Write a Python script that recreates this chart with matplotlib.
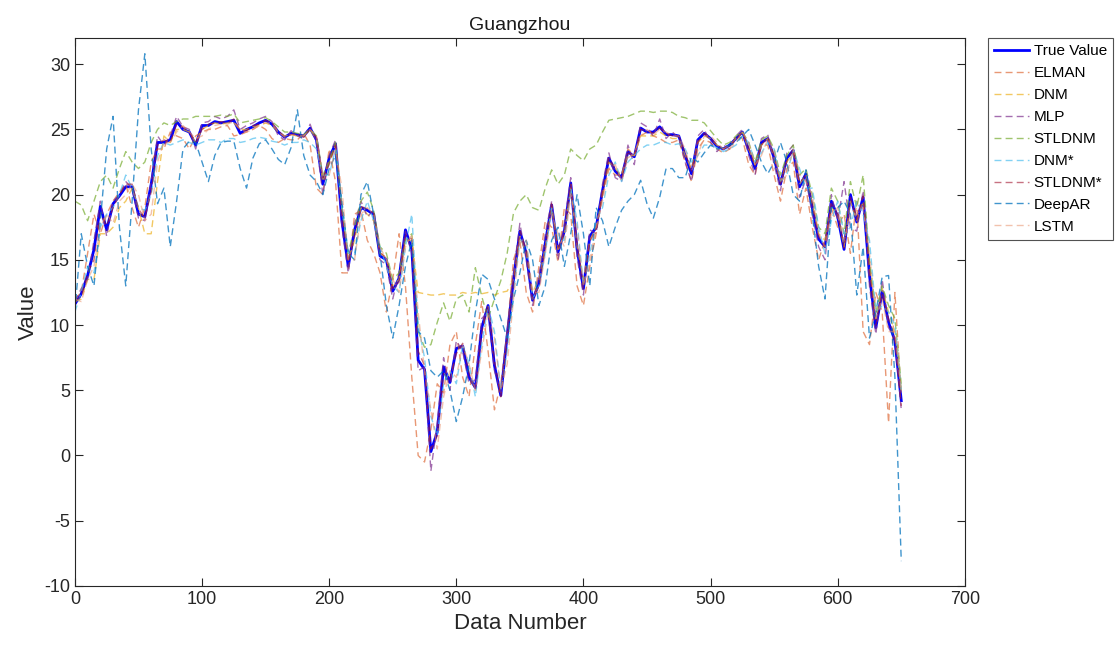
import numpy as np
import matplotlib
matplotlib.use("Agg")
import matplotlib.pyplot as plt

plt.rcParams['font.family'] = ['Liberation Sans', 'DejaVu Sans']
plt.rcParams['axes.unicode_minus'] = False

# data number sampled every 5 points (0 .. 650)
data_number = np.arange(0, 651, 5)

true_value = [
    11.6, 12.4, 13.8, 15.8, 19.1, 17.3, 19.3, 19.9, 20.6, 20.6,
    18.5, 18.3, 20.8, 24.0, 24.0, 24.2, 25.6, 25.0, 24.8, 23.8,
    25.3, 25.3, 25.6, 25.5, 25.6, 25.7, 24.7, 25.0, 25.2, 25.5,
    25.7, 25.4, 24.8, 24.4, 24.7, 24.6, 24.5, 25.1, 24.2, 20.8,
    22.8, 23.9, 18.0, 14.5, 17.3, 19.0, 18.8, 18.5, 15.3, 15.0,
    12.6, 13.6, 17.3, 15.8, 7.3, 6.6, 0.3, 1.8, 6.8, 5.6,
    8.2, 8.4, 6.0, 5.2, 9.8, 11.5, 6.9, 4.6, 9.2, 13.5,
    17.2, 15.5, 11.9, 13.2, 16.3, 19.2, 15.6, 17.2, 20.9, 15.8,
    12.8, 16.8, 17.5, 20.3, 22.8, 21.8, 21.3, 23.3, 22.9, 25.1,
    24.8, 24.8, 25.2, 24.6, 24.6, 24.5, 23.0, 21.6, 24.2, 24.7,
    24.3, 23.7, 23.5, 23.8, 24.3, 24.8, 23.4, 22.0, 24.0, 24.3,
    22.8, 20.8, 22.8, 23.4, 20.6, 21.6, 19.0, 16.6, 16.0, 19.5,
    18.3, 15.8, 20.0, 17.9, 19.8, 13.8, 9.8, 12.6, 10.2, 8.8,
    4.2,
]

elman = [
    12.0, 12.5, 15.5, 18.5, 17.0, 18.5, 19.5, 20.2, 20.8, 19.0,
    17.5, 19.0, 22.5, 23.5, 23.5, 24.8, 24.5, 24.3, 23.5, 24.5,
    24.8, 25.0, 25.0, 25.2, 25.3, 24.5, 24.6, 24.8, 25.0, 25.3,
    25.0, 24.3, 24.0, 24.3, 24.2, 24.2, 24.7, 23.8, 20.5, 20.0,
    23.5, 21.0, 14.0, 14.0, 18.5, 18.8, 16.5, 15.5, 14.0, 11.0,
    13.5, 17.0, 13.0, 6.0, 0.0, -0.5, 2.0, 5.5, 4.8, 8.5,
    9.5, 6.0, 4.5, 8.5, 11.8, 8.0, 3.5, 5.5, 9.5, 15.0,
    16.5, 12.5, 11.0, 14.5, 18.0, 17.5, 14.8, 19.0, 18.5, 13.0,
    11.5, 14.5, 17.0, 20.0, 22.0, 21.5, 21.5, 23.5, 23.0, 24.5,
    24.8, 24.5, 24.3, 24.0, 24.0, 24.2, 22.5, 21.0, 23.5, 24.2,
    24.0, 23.5, 23.2, 23.5, 24.5, 24.3, 22.3, 21.5, 23.8, 23.8,
    21.5, 19.5, 22.0, 22.5, 18.5, 20.5, 17.5, 15.0, 16.5, 19.0,
    17.5, 18.5, 15.5, 19.5, 9.5, 8.5, 12.5, 11.0, 2.5, 12.5,
    4.5,
]

dnm = [
    11.8, 12.0, 13.5, 13.5, 17.0, 17.0, 17.5, 19.0, 19.5, 20.5,
    19.0, 17.0, 17.0, 21.0, 24.5, 24.0, 25.0, 25.0, 24.8, 24.0,
    25.0, 25.3, 25.5, 25.4, 25.5, 25.5, 25.0, 25.0, 25.2, 25.3,
    25.5, 25.3, 24.8, 24.5, 24.6, 24.5, 24.5, 25.0, 24.2, 21.0,
    22.5, 23.8, 19.0, 15.0, 16.5, 19.0, 18.5, 18.0, 15.5, 15.2,
    13.0, 13.5, 16.5, 16.5, 12.5, 12.4, 12.3, 12.3, 12.4, 12.3,
    12.3, 12.5, 12.4, 12.5, 12.4, 12.5, 12.3, 12.5, 12.6, 13.5,
    16.8, 15.5, 12.5, 13.5, 16.0, 19.0, 15.8, 17.0, 20.5, 16.0,
    13.5, 16.5, 17.5, 20.0, 22.5, 22.0, 21.5, 23.0, 23.0, 24.5,
    24.5, 24.5, 24.8, 24.5, 24.3, 24.3, 23.0, 22.0, 24.0, 24.5,
    24.3, 23.8, 23.5, 23.8, 24.3, 24.8, 23.5, 22.3, 23.8, 24.3,
    22.8, 21.0, 22.5, 23.2, 20.8, 21.5, 19.3, 17.0, 16.5, 19.0,
    18.5, 16.0, 19.5, 18.0, 19.5, 14.5, 10.5, 12.8, 11.0, 9.5,
    5.0,
]

mlp = [
    11.8, 12.8, 13.5, 16.5, 19.5, 16.8, 19.5, 20.0, 21.0, 20.5,
    18.2, 18.0, 21.0, 24.5, 23.8, 24.5, 26.0, 25.2, 25.0, 23.5,
    25.5, 25.6, 26.0, 25.8, 26.0, 26.5, 25.0, 25.3, 25.5, 25.8,
    26.0, 25.6, 24.5, 24.2, 24.9, 24.5, 24.3, 25.4, 24.0, 20.0,
    23.0, 24.2, 17.5, 14.0, 17.8, 19.5, 18.3, 18.8, 15.0, 14.6,
    12.0, 14.0, 17.2, 15.5, 6.5, 6.8, -1.2, 2.5, 7.5, 5.0,
    8.8, 8.0, 5.5, 5.8, 10.5, 11.0, 6.5, 4.8, 9.5, 14.0,
    17.8, 15.0, 11.5, 13.8, 17.0, 19.5, 15.0, 17.8, 21.3, 15.2,
    12.3, 17.3, 17.0, 20.8, 23.2, 21.3, 21.0, 23.8, 22.3, 25.5,
    25.2, 24.5, 25.8, 24.3, 24.8, 24.3, 22.5, 21.0, 24.5, 25.0,
    24.0, 23.3, 23.8, 23.5, 24.5, 25.0, 23.0, 21.5, 24.3, 24.6,
    22.3, 20.3, 23.2, 23.8, 19.8, 21.2, 18.5, 16.0, 15.0, 20.0,
    18.0, 21.0, 17.5, 17.2, 20.3, 13.0, 9.3, 13.5, 9.8, 9.0,
    3.5,
]

stldnm = [
    19.5, 19.2, 18.0, 19.5, 21.0, 21.5, 20.5, 22.0, 23.3, 22.5,
    22.0, 22.5, 24.0, 25.0, 25.5, 25.3, 25.6, 25.8, 25.8, 26.0,
    26.0, 26.0, 26.0, 26.1, 26.0, 26.2, 25.5, 25.6, 25.7, 25.8,
    25.9, 25.6, 25.2, 24.8, 24.8, 24.7, 24.6, 25.0, 24.5, 21.5,
    22.5, 24.0, 19.0, 15.5, 17.5, 19.5, 20.2, 18.8, 16.0, 15.5,
    13.5, 14.0, 16.5, 17.0, 9.5, 8.3, 8.5, 10.2, 11.7, 10.3,
    12.0, 12.3, 11.0, 14.4, 12.2, 10.5, 12.0, 13.4, 15.5, 18.6,
    19.5, 20.0, 19.0, 18.8, 20.5, 21.9, 20.8, 21.5, 23.5, 23.0,
    22.6, 23.5, 23.8, 24.8, 25.7, 25.8, 25.9, 26.0, 26.2, 26.4,
    26.4, 26.3, 26.4, 26.4, 26.3, 26.0, 25.9, 25.7, 25.7, 25.5,
    24.9, 24.3, 23.8, 24.0, 24.5, 24.8, 24.0, 22.5, 24.2, 24.5,
    23.5, 21.5, 23.0, 23.8, 21.5, 22.0, 20.0, 17.5, 17.0, 20.5,
    19.5, 17.0, 21.0, 19.0, 21.5, 15.0, 11.0, 13.0, 11.5, 10.5,
    5.5,
]

dnm_star = [
    11.0, 12.5, 14.5, 14.0, 17.5, 18.5, 19.0, 20.0, 21.5, 20.5,
    19.0, 18.8, 20.0, 23.0, 24.0, 23.8, 24.0, 24.2, 24.0, 23.8,
    24.0, 24.2, 24.2, 24.0, 24.3, 24.3, 24.0, 24.1, 24.3, 24.4,
    24.3, 24.1, 24.0, 23.8, 24.0, 24.0, 24.2, 24.0, 23.5, 21.5,
    21.5, 23.5, 19.0, 15.5, 15.5, 18.0, 19.5, 18.0, 16.0, 14.5,
    13.0, 12.5, 16.0, 18.5, 10.0, 7.5, 3.0, 1.5, 5.5, 6.5,
    5.5, 8.5, 7.0, 4.5, 8.5, 11.5, 9.5, 5.0, 8.0, 12.5,
    16.5, 16.5, 12.0, 13.0, 15.5, 19.0, 16.5, 16.5, 20.5, 18.0,
    13.0, 15.5, 18.0, 19.0, 21.5, 22.5, 21.0, 22.5, 23.0, 23.5,
    23.8, 23.8, 24.0, 24.0, 23.8, 23.9, 23.5, 22.5, 23.0, 23.8,
    23.8, 23.6, 23.3, 23.5, 23.8, 24.5, 24.0, 22.5, 23.2, 24.0,
    23.5, 21.0, 21.5, 23.5, 22.0, 20.5, 20.5, 17.5, 15.5, 18.0,
    19.5, 17.0, 17.5, 19.5, 18.5, 16.5, 11.0, 11.5, 11.0, 10.0,
    5.0,
]

stldnm_star = [
    11.8, 12.2, 14.0, 15.0, 18.6, 17.6, 19.0, 20.0, 20.8, 20.8,
    18.9, 18.2, 20.2, 23.8, 24.2, 24.0, 25.4, 25.2, 24.8, 24.0,
    25.0, 25.4, 25.5, 25.6, 25.5, 25.8, 24.9, 24.9, 25.3, 25.4,
    25.7, 25.5, 24.9, 24.4, 24.6, 24.7, 24.4, 25.0, 24.4, 21.3,
    22.3, 23.8, 18.6, 14.8, 16.8, 19.1, 18.9, 18.6, 15.6, 15.1,
    12.8, 13.3, 16.9, 16.6, 8.0, 6.9, 0.5, 1.5, 6.3, 5.8,
    7.8, 8.6, 6.3, 5.0, 9.4, 11.6, 7.3, 4.5, 8.8, 13.2,
    17.2, 15.8, 12.0, 13.0, 16.0, 19.3, 15.9, 17.0, 20.8, 16.3,
    12.8, 16.4, 17.4, 20.1, 22.8, 22.0, 21.2, 23.2, 23.0, 25.0,
    24.9, 24.7, 25.1, 24.7, 24.5, 24.5, 23.2, 21.8, 24.0, 24.7,
    24.3, 23.8, 23.5, 23.7, 24.2, 24.8, 23.6, 22.2, 23.8, 24.4,
    23.0, 20.8, 22.6, 23.5, 20.9, 21.5, 19.3, 16.8, 16.0, 19.3,
    18.5, 15.9, 19.8, 18.1, 19.9, 14.2, 10.0, 12.4, 10.5, 9.0,
    3.8,
]

deepar = [
    11.0, 17.0, 14.5, 13.0, 18.0, 23.5, 26.0, 17.5, 13.0, 19.5,
    26.5, 30.8, 23.5, 19.3, 20.5, 16.0, 19.5, 23.5, 24.1, 24.0,
    22.5, 21.0, 23.0, 24.0, 24.1, 24.1, 22.0, 20.5, 22.8, 23.9,
    24.2, 23.5, 22.7, 22.3, 23.6, 26.5, 23.0, 21.5, 21.0, 20.0,
    22.0, 23.0, 19.5, 15.5, 15.0, 20.0, 21.0, 18.5, 15.5, 11.5,
    9.0, 11.5, 14.5, 16.5, 9.5, 9.0, 6.5, 6.0, 6.5, 5.0,
    2.6, 4.5, 7.0, 11.0, 13.9, 13.5, 12.0, 10.5, 9.0, 12.0,
    14.0, 16.5, 15.0, 11.5, 13.0, 16.5, 17.5, 14.5, 17.0, 20.0,
    17.0, 13.0, 19.0, 18.0, 16.0, 17.5, 18.8, 19.5, 20.0, 21.1,
    19.3, 18.2, 19.8, 22.0, 22.0, 21.3, 21.3, 22.9, 22.5, 23.2,
    23.8, 23.5, 23.6, 23.8, 24.0, 24.5, 25.0, 23.8, 22.5, 21.6,
    22.5, 24.0, 22.5, 20.0, 19.5, 21.9, 18.5, 14.5, 12.0, 19.0,
    19.0, 19.5, 18.5, 12.3, 16.0, 9.0, 11.0, 13.7, 13.8, 6.0,
    -8.1,
]

lstm = [
    12.0, 11.8, 13.5, 14.5, 17.5, 18.5, 17.8, 19.5, 20.0, 20.8,
    20.0, 18.0, 18.5, 22.5, 24.0, 24.0, 24.8, 25.3, 24.8, 24.3,
    24.5, 25.0, 25.3, 25.4, 25.4, 25.6, 25.0, 24.8, 25.0, 25.3,
    25.5, 25.5, 24.8, 24.4, 24.6, 24.5, 24.5, 25.0, 24.5, 21.5,
    21.5, 23.5, 20.5, 15.0, 15.0, 18.5, 19.0, 18.5, 16.0, 15.0,
    13.5, 12.5, 16.0, 17.0, 11.0, 6.5, 3.5, 0.5, 4.5, 6.5,
    6.0, 8.5, 7.0, 5.0, 8.0, 11.0, 9.0, 5.0, 7.0, 12.0,
    16.5, 16.5, 12.5, 12.5, 15.5, 18.5, 17.0, 16.0, 20.0, 17.5,
    13.0, 15.0, 17.5, 19.5, 22.0, 22.3, 21.0, 22.8, 23.2, 24.5,
    25.0, 24.6, 25.0, 24.8, 24.5, 24.5, 23.5, 21.8, 23.0, 24.5,
    24.5, 24.0, 23.5, 23.5, 24.0, 24.8, 24.0, 22.3, 23.0, 24.3,
    23.3, 21.0, 21.5, 23.5, 21.5, 21.0, 20.0, 17.0, 16.0, 18.5,
    19.0, 16.5, 18.5, 18.5, 19.0, 15.5, 10.5, 12.0, 9.5, 9.5,
    5.0,
]

model_names = ['ELMAN', 'DNM', 'MLP', 'STLDNM', 'DNM*', 'STLDNM*', 'DeepAR', 'LSTM']
model_values = [elman, dnm, mlp, stldnm, dnm_star, stldnm_star, deepar, lstm]
model_colors = ['#D95319', '#EDB120', '#7E2F8E', '#77AC30',
                '#4DBEEE', '#A2142F', '#0072BD', '#E8906A']
model_alpha = [0.6, 0.7, 0.7, 0.7, 0.7, 0.6, 0.75, 0.55]

fig = plt.figure(figsize=(11.18, 6.46), dpi=100)
ax = fig.add_axes([0.067, 0.093, 0.796, 0.848])

ax.plot(data_number, true_value, color='#0000FF', lw=2.0, label='True Value')
for name, vals, c, a in zip(model_names, model_values, model_colors, model_alpha):
    ax.plot(data_number, vals, color=c, lw=1.0, alpha=a,
            linestyle=(0, (5, 3)), label=name)

ax.set_xlim(0, 700)
ax.set_ylim(-10, 32)
ax.set_xticks(np.arange(0, 701, 100))
ax.set_yticks(np.arange(-10, 31, 5))
ax.tick_params(direction='in', top=True, right=True, length=6,
               labelsize=13, colors='#262626')
for sp in ax.spines.values():
    sp.set_color('#262626')
    sp.set_linewidth(0.8)

ax.set_xlabel('Data Number', fontsize=16, color='#262626')
ax.set_ylabel('Value', fontsize=16, color='#262626')
ax.set_title('Guangzhou', fontsize=14, color='#1a1a1a')

leg = ax.legend(loc='upper left', bbox_to_anchor=(1.026, 1.0), fontsize=11,
                frameon=True, fancybox=False, handlelength=2.3,
                borderaxespad=0, labelspacing=0.52, handletextpad=0.3,
                borderpad=0.4)
leg.get_frame().set_edgecolor('#262626')
leg.get_frame().set_linewidth(0.8)

fig.savefig('out.png', dpi=100)
